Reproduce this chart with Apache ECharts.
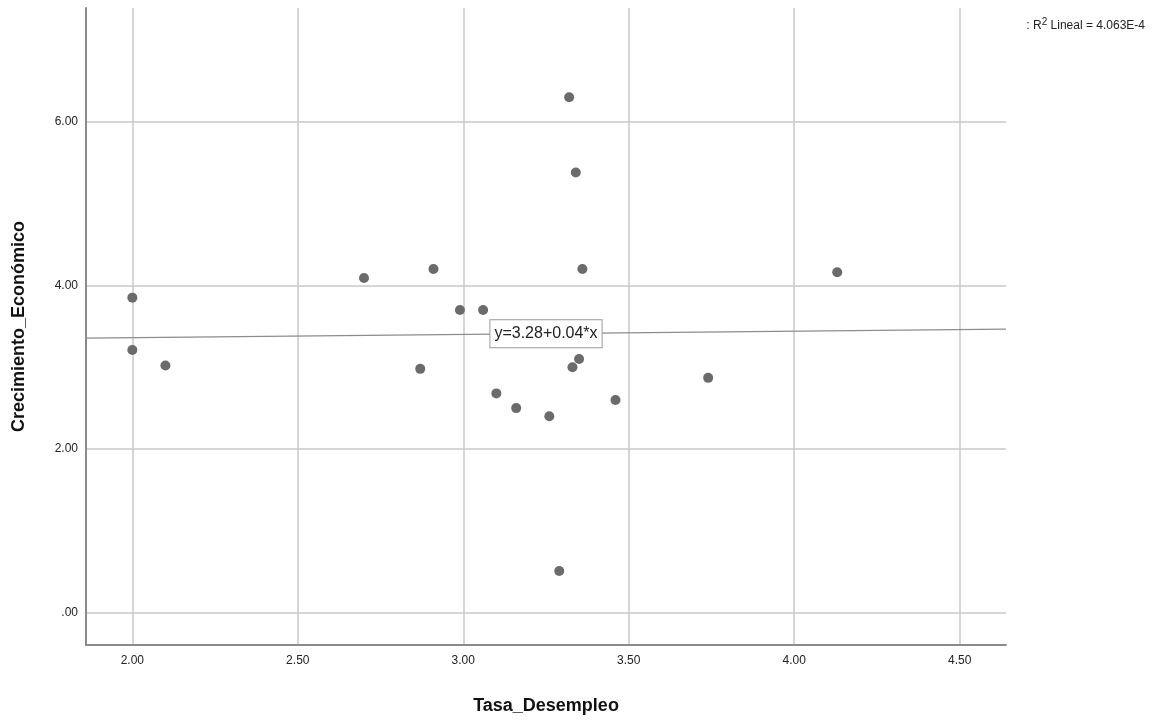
<!DOCTYPE html>
<html>
<head>
<meta charset="utf-8">
<script src="https://cdn.jsdelivr.net/npm/echarts@6/dist/echarts.min.js"></script>
<style>
  html, body { margin: 0; padding: 0; background: #fff; }
  #chart { width: 1155px; height: 722px; }
</style>
</head>
<body>
<div id="chart"></div>
<script>
// datos
var tasaDesempleo = [2.00, 2.00, 2.10, 2.70, 2.87, 2.91, 2.99, 3.06, 3.10, 3.16,
                     3.26, 3.29, 3.32, 3.33, 3.34, 3.35, 3.36, 3.46, 3.74, 4.13];
var crecimiento   = [3.85, 3.21, 3.02, 4.09, 2.98, 4.20, 3.70, 3.70, 2.68, 2.50,
                     2.40, 0.51, 6.30, 3.00, 5.38, 3.10, 4.20, 2.60, 2.87, 4.16];
var xTicks = [2.0, 2.5, 3.0, 3.5, 4.0, 4.5];
var yTicks = [0, 2, 4, 6];
var fitIntercept = 3.28;
var fitSlope = 0.04;
var xRange = [1.86, 4.64];
var yRange = [-0.395, 7.39];
var labelAt = 3.25;

var puntos = tasaDesempleo.map(function (x, i) { return [x, crecimiento[i]]; });
var recta = xRange.map(function (x) { return [x, fitIntercept + fitSlope * x]; });

function fmt(v) {
  var s = v.toFixed(2);
  return s.indexOf('0.') === 0 ? s.slice(1) : s;
}

var chart = echarts.init(document.getElementById('chart'));
var fuente = '"Liberation Sans", Arial, sans-serif';
var gridColor = '#c8c8c8';

chart.setOption({
  backgroundColor: '#fff',
  animation: false,
  title: {
    text: ': R{sup|2} Lineal = 4.063E-4',
    right: 5,
    top: 12,
    textStyle: {
      fontFamily: fuente,
      fontSize: 12,
      fontWeight: 'normal',
      color: '#222',
      rich: {
        sup: { fontSize: 10, verticalAlign: 'bottom', padding: [0, 0, 7, 0], fontFamily: fuente, color: '#222' }
      }
    }
  },
  grid: { left: 86, right: 149, top: 8, bottom: 77 },
  xAxis: {
    type: 'value',
    min: xRange[0],
    max: xRange[1],
    name: 'Tasa_Desempleo',
    nameLocation: 'middle',
    nameGap: 52,
    nameTextStyle: { fontFamily: fuente, fontSize: 18, fontWeight: 'bold', color: '#111' },
    axisLine: { show: true, onZero: false, lineStyle: { color: '#8a8a8a', width: 2 } },
    axisTick: { show: false, customValues: xTicks },
    axisLabel: { customValues: xTicks, formatter: fmt, margin: 10, fontFamily: fuente, fontSize: 12, color: '#222' },
    splitLine: { show: true, lineStyle: { color: gridColor, width: 1.5 } }
  },
  yAxis: {
    type: 'value',
    min: yRange[0],
    max: yRange[1],
    name: 'Crecimiento_Económico',
    nameLocation: 'middle',
    nameGap: 58,
    nameTextStyle: { fontFamily: fuente, fontSize: 18, fontWeight: 'bold', color: '#111' },
    axisLine: { show: true, onZero: false, lineStyle: { color: '#8a8a8a', width: 2 } },
    axisTick: { show: false, customValues: yTicks },
    axisLabel: { customValues: yTicks, formatter: fmt, margin: 8, fontFamily: fuente, fontSize: 12, color: '#222' },
    splitLine: { show: true, lineStyle: { color: gridColor, width: 1.5 } }
  },
  series: [
    {
      type: 'line',
      data: recta,
      symbol: 'none',
      silent: true,
      lineStyle: { color: '#8c8c8c', width: 1.2 },
      markPoint: {
        symbol: 'rect',
        symbolSize: 0,
        data: [{ coord: [labelAt, fitIntercept + fitSlope * labelAt] }],
        label: {
          show: true,
          position: 'inside',
          formatter: 'y=3.28+0.04*x',
          fontFamily: fuente,
          fontSize: 16,
          color: '#222',
          backgroundColor: '#fff',
          borderColor: '#9a9a9a',
          borderWidth: 1,
          padding: [6, 4, 5, 4]
        }
      }
    },
    {
      type: 'scatter',
      data: puntos,
      symbolSize: 10,
      itemStyle: { color: '#6b6b6b', opacity: 1 }
    }
  ]
});
</script>
</body>
</html>
